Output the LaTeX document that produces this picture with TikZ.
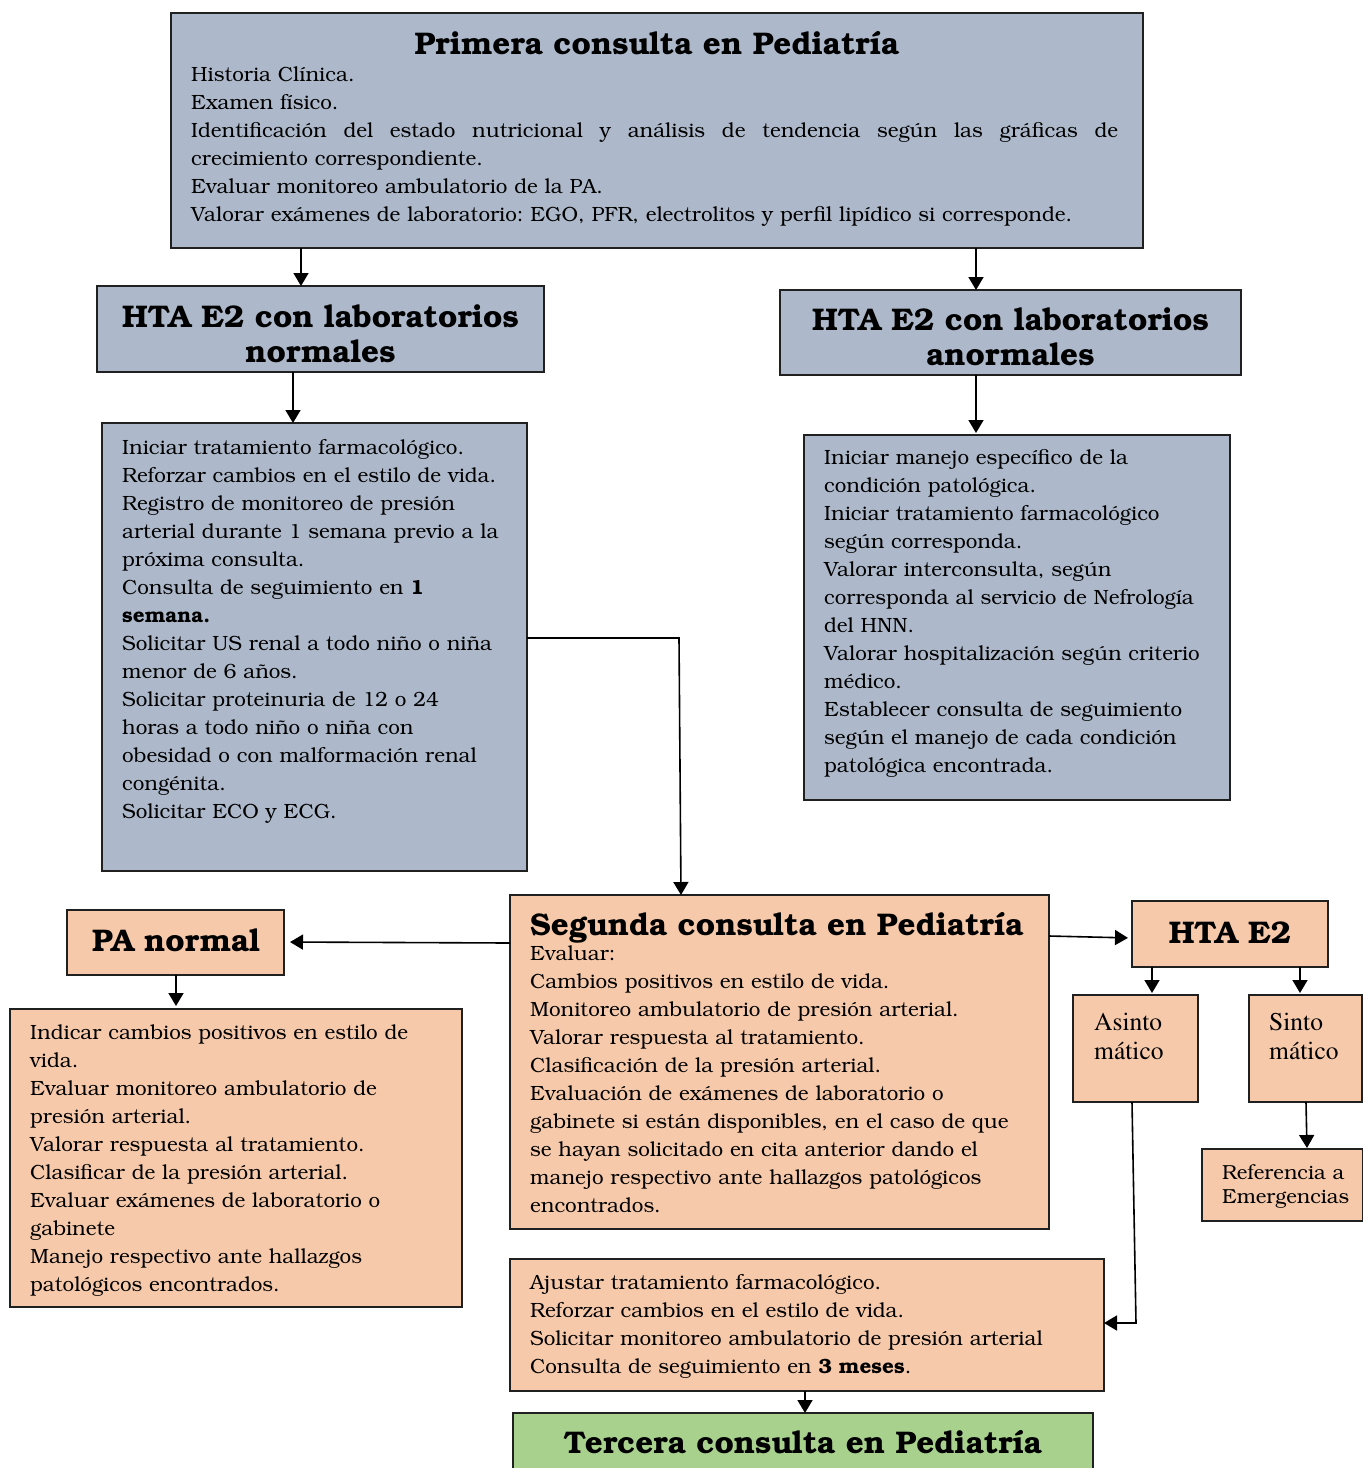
\documentclass[tikz,border=0pt]{standalone}
\usepackage[T1]{fontenc}
\usetikzlibrary{arrows.meta}
\renewcommand\rmdefault{pbk}
\frenchspacing
\newcommand\bkbody{\fontfamily{pbk}\fontseries{m}\fontsize{20.6}{28}\selectfont}
\newcommand\bktitle{\fontfamily{pbk}\fontseries{b}\fontsize{31.3}{35}\selectfont}
\newcommand\tmbody{\fontfamily{ptm}\fontseries{m}\fontsize{25.5}{29}\selectfont}
\definecolor{bluegray}{HTML}{ADB9CA}
\definecolor{peach}{HTML}{F6C9AA}
\definecolor{leaf}{HTML}{A9D18E}
\definecolor{edge}{HTML}{202020}
\tikzset{
  panel/.style={draw=edge, line width=2pt, anchor=north west, inner sep=0pt, outer sep=0pt},
  bluepanel/.style={panel, fill=bluegray},
  peachpanel/.style={panel, fill=peach},
  greenpanel/.style={panel, fill=leaf},
  bodytext/.style={anchor=base west, inner sep=0pt, align=left, font=\bkbody},
  titletext/.style={anchor=base, inner sep=0pt, align=center, font=\bktitle},
  flow/.style={-{Triangle[width=15pt,length=13pt]}, line width=1.6pt, draw=black},
}
\begin{document}
\begin{tikzpicture}[x=1pt,y=-1pt]
\useasboundingbox (0,0) rectangle (1363,1468);

% --- boxes ---
\node[bluepanel, minimum width=972pt, minimum height=235pt] (first) at (171,13) {};
\node[bluepanel, minimum width=447pt, minimum height=86pt] (normTitle) at (97,286) {};
\node[bluepanel, minimum width=461pt, minimum height=85pt] (abnTitle) at (780,290) {};
\node[bluepanel, minimum width=425pt, minimum height=448pt] (normBody) at (102,423) {};
\node[bluepanel, minimum width=426pt, minimum height=365pt] (abnBody) at (804,435) {};
\node[peachpanel, minimum width=217pt, minimum height=65pt] (paNormal) at (67,910) {};
\node[peachpanel, minimum width=452pt, minimum height=298pt] (paBody) at (10,1009) {};
\node[peachpanel, minimum width=539pt, minimum height=334pt] (second) at (510,895) {};
\node[peachpanel, minimum width=196pt, minimum height=66pt] (htaTwo) at (1132,901) {};
\node[peachpanel, minimum width=125pt, minimum height=107pt] (asym) at (1073,995) {};
\node[peachpanel, minimum width=113pt, minimum height=107pt] (sym) at (1249,995) {};
\node[peachpanel, minimum width=161pt, minimum height=72pt] (refer) at (1202,1149) {};
\node[peachpanel, minimum width=594pt, minimum height=132pt] (adjust) at (510,1259) {};
\node[greenpanel, minimum width=580pt, minimum height=80pt] (third) at (513,1413) {};

% --- texts ---
\node[titletext, text width=900pt] (firstHead) at (657,54) {Primera consulta en Pediatría};
\node[bodytext, text width=945pt] (firstText) at (191,81) {Historia Clínica.\\
Examen físico.\\
\leavevmode\hbox to 927pt{\spaceskip=5pt plus 1fil Identificación del estado nutricional y análisis de tendencia según las gráficas de}\\
crecimiento correspondiente.\\
Evaluar monitoreo ambulatorio de la PA.\\
Valorar exámenes de laboratorio: EGO, PFR, electrolitos y perfil lipídico si corresponde.};

\node[titletext, text width=440pt] (normHead) at (320.5,327) {HTA E2 con laboratorios\\normales};
\node[titletext, text width=455pt] (abnHead) at (1010.5,330) {HTA E2 con laboratorios\\anormales};

\node[bodytext, text width=400pt] (normText) at (122,454) {Iniciar tratamiento farmacológico.\\
Reforzar cambios en el estilo de vida.\\
Registro de monitoreo de presión\\
arterial durante 1 semana previo a la\\
próxima consulta.\\
Consulta de seguimiento en \textbf{1}\\
\textbf{semana.}\\
Solicitar US renal a todo niño o niña\\
menor de 6 años.\\
Solicitar proteinuria de 12 o 24\\
horas a todo niño o niña con\\
obesidad o con malformación renal\\
congénita.\\
Solicitar ECO y ECG.};

\node[bodytext, text width=400pt] (abnText) at (824,464) {Iniciar manejo específico de la\\
condición patológica.\\
Iniciar tratamiento farmacológico\\
según corresponda.\\
Valorar interconsulta, según\\
corresponda al servicio de Nefrología\\
del HNN.\\
Valorar hospitalización según criterio\\
médico.\\
Establecer consulta de seguimiento\\
según el manejo de cada condición\\
patológica encontrada.};

\node[titletext, text width=210pt] (paHead) at (176,951) {PA normal};
\node[bodytext, text width=430pt] (paText) at (30,1039) {Indicar cambios positivos en estilo de\\
vida.\\
Evaluar monitoreo ambulatorio de\\
presión arterial.\\
Valorar respuesta al tratamiento.\\
Clasificar de la presión arterial.\\
Evaluar exámenes de laboratorio o\\
gabinete\\
Manejo respectivo ante hallazgos\\
patológicos encontrados.};

\node[titletext, anchor=base west, text width=520pt, align=left] (secondHead) at (530,935) {Segunda consulta en Pediatría};
\node[bodytext, text width=515pt] (secondText) at (530,960) {Evaluar:\\
Cambios positivos en estilo de vida.\\
Monitoreo ambulatorio de presión arterial.\\
Valorar respuesta al tratamiento.\\
Clasificación de la presión arterial.\\
Evaluación de exámenes de laboratorio o\\
gabinete si están disponibles, en el caso de que\\
se hayan solicitado en cita anterior dando el\\
manejo respectivo ante hallazgos patológicos\\
encontrados.};

\node[titletext, text width=190pt] (htaHead) at (1230,943) {HTA E2};
\node[bodytext, font=\tmbody, text width=100pt] (asymText) at (1094,1030) {Asinto\\mático};
\node[bodytext, font=\tmbody, text width=95pt] (symText) at (1269,1030) {Sinto\\mático};
\node[bodytext, font=\fontfamily{pbk}\fontseries{m}\fontsize{20.3}{24}\selectfont, text width=140pt] (referText) at (1222,1179) {Referencia a\\Emergencias};

\node[bodytext, text width=570pt] (adjustText) at (530,1289) {Ajustar tratamiento farmacológico.\\
Reforzar cambios en el estilo de vida.\\
Solicitar monitoreo ambulatorio de presión arterial\\
Consulta de seguimiento en \textbf{3 meses}.};

\node[titletext, text width=570pt] (thirdHead) at (803,1453) {Tercera consulta en Pediatría};

% --- connectors ---
\coordinate (bend) at (679,638);
\coordinate (asymDown) at (1136,1323);
\draw[flow] (first.south -| 301,0) -- (normTitle.north -| 301,0);
\draw[flow] (first.south -| 976,0) -- (abnTitle.north -| 976,0);
\draw[flow] (normTitle.south -| 293,0) -- (normBody.north -| 293,0);
\draw[flow, shorten >=2pt] (abnTitle.south -| 976,0) -- (abnBody.north -| 976,0);
\draw[flow] (normBody.east |- bend) -- (bend) -- (second.north -| 681,0);
\draw[flow, shorten >=6pt] (second.west |- 0,943) -- (paNormal.east |- 0,942);
\draw[flow, shorten >=3pt] (paNormal.south -| 176,0) -- (paBody.north -| 176,0);
\draw[flow, shorten >=4pt] (second.east |- 0,936) -- (htaTwo.west |- 0,938);
\draw[flow, shorten >=2pt] (htaTwo.south -| 1152,0) -- (asym.north -| 1152,0);
\draw[flow, shorten >=2pt] (htaTwo.south -| 1300,0) -- (sym.north -| 1300,0);
\draw[flow, shorten >=1pt] (sym.south -| 1306,0) -- (refer.north -| 1307,0);
\draw[flow] (asym.south -| 1132,0) -- (asymDown) -- (adjust.east |- asymDown);
\draw[flow] (adjust.south -| 805,0) -- (third.north -| 805,0);
\end{tikzpicture}
\end{document}
